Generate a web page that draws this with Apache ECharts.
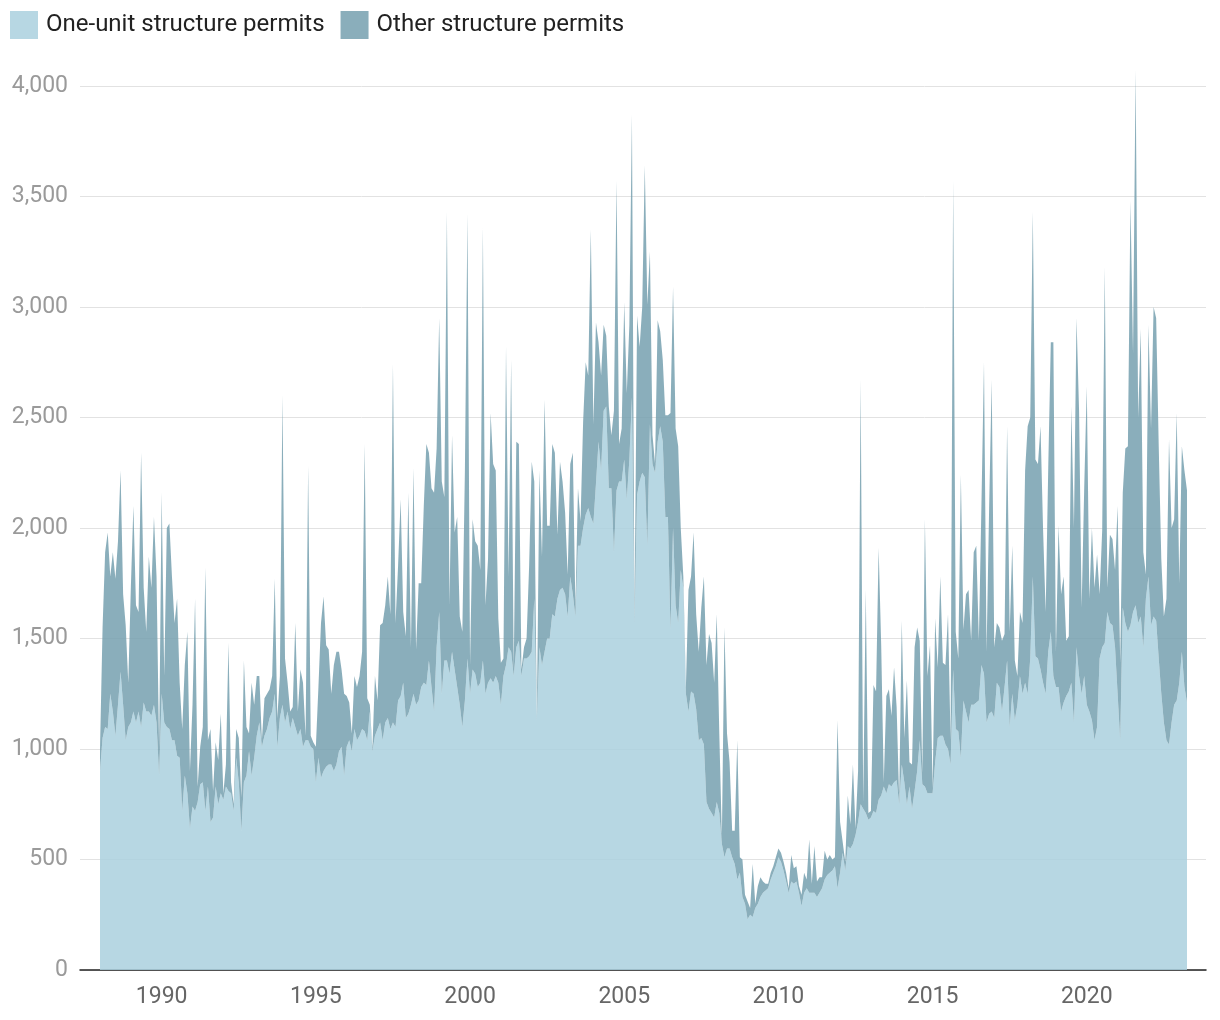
<!DOCTYPE html>
<html>
<head>
<meta charset="utf-8">
<script src="https://cdn.jsdelivr.net/npm/echarts@6/dist/echarts.min.js"></script>
<style>
  html, body { margin: 0; padding: 0; background: #fff; }
  #chart { width: 1220px; height: 1020px; }
</style>
</head>
<body>
<div id="chart"></div>
<script>
// monthly series, Jan 1988 .. Apr 2023
var startYear = 1988;
var yearTicks = [1990, 1995, 2000, 2005, 2010, 2015, 2020];
var seriesNames = ["One-unit structure permits", "Other structure permits"];

var oneUnit = [
  900, 1050, 1100, 1090, 1250, 1170, 1060, 1200, 1350, 1200,
  1040, 1100, 1120, 1170, 1120, 1170, 1100, 1210, 1170, 1170,
  1150, 1200, 1120, 880, 1250, 1120, 1100, 1090, 1040, 1040,
  970, 960, 720, 880, 800, 640, 740, 720,
  760, 840, 850, 720, 830, 670, 690, 830, 750, 800,
  770, 830, 810, 800, 720, 960, 850, 630, 850, 880,
  990, 880, 960, 1060, 1120, 1010, 1060, 1090, 1140, 1170,
  1250, 1010, 1140, 1200, 1120, 1170, 1090, 1140, 1100,
  1060, 1090, 1010, 1040, 1040, 1010, 1000, 850, 960, 870,
  900, 920, 930, 930, 900, 930, 990, 1010, 880, 1010,
  1040, 990, 1090, 1040, 1060, 1090, 1080, 1040, 1170, 990,
  1060, 1090, 1120, 1040, 1120, 1140, 1090, 1120, 1100,
  1220, 1240, 1300, 1140, 1160, 1200, 1250, 1200, 1220, 1280,
  1300, 1290, 1400, 1280, 1170, 1460, 1620, 1250, 1400, 1400,
  1340, 1440, 1360, 1280, 1200, 1100, 1220, 1410, 1250, 1360,
  1340, 1280, 1300, 1400, 1250, 1300, 1320, 1300, 1330,
  1300, 1200, 1330, 1380, 1460, 1440, 1330, 1460, 1490, 1330,
  1410, 1410, 1420, 1440, 1680, 1130, 1460, 1380, 1440, 1500,
  1500, 1610, 1600, 1680, 1720, 1730, 1700, 1600, 1780, 1700,
  1600, 1920, 1920, 2000, 2060, 2090, 2050, 2020, 2200,
  2390, 2260, 2530, 2550, 2180, 2180, 1890, 2170, 2210, 2210,
  2310, 2130, 2310, 2590, 1570, 2150, 2210, 2250, 2230, 1920,
  2470, 2290, 2250, 2390, 2460, 2390, 2050, 2050, 1540, 2000,
  1650, 1570, 1810, 1730, 1250, 1170, 1260, 1250, 1180,
  1040, 1050, 1020, 760, 730, 710, 690, 760, 710, 570,
  510, 550, 550, 510, 480, 410, 440, 330, 300, 230,
  250, 240, 280, 300, 330, 350, 360, 370, 410, 440,
  470, 510, 490, 450, 400, 350, 400, 390, 400,
  350, 290, 350, 370, 350, 350, 350, 330, 350, 370,
  410, 430, 440, 450, 470, 370, 440, 530, 450, 560,
  550, 570, 610, 670, 750, 730, 710, 680, 690, 720,
  710, 770, 790, 830, 800, 840, 830, 850, 860,
  750, 930, 850, 750, 830, 730, 810, 900, 1040, 840,
  830, 800, 800, 800, 940, 1050, 1060, 1060, 1020, 1000,
  930, 1360, 1090, 1080, 960, 1220, 1170, 1120, 1200, 1200,
  1210, 1220, 1380, 1340, 1120, 1160, 1170, 1140, 1300,
  1280, 1170, 1280, 1400, 1100, 1250, 1130, 1200, 1330, 1250,
  1300, 1250, 1410, 1780, 1420, 1410, 1360, 1300, 1250, 1440,
  1530, 1330, 1280, 1280, 1170, 1210, 1240, 1260, 1300, 1120,
  1460, 1330, 1250, 1330, 1200, 1170, 1130, 1040, 1100,
  1410, 1460, 1480, 1620, 1570, 1560, 1460, 1250, 1040, 1640,
  1570, 1530, 1560, 1620, 1650, 1570, 1600, 1460, 1680, 1780,
  1560, 1600, 1580, 1410, 1250, 1120, 1040, 1020, 1120, 1200,
  1220, 1300, 1440, 1280, 1210
];

var otherUnits = [
  100, 500, 790, 890, 530, 720, 710, 740, 910, 500,
  520, 200, 610, 930, 530, 450, 1240, 520, 360, 700,
  580, 850, 660, 120, 910, 210, 900, 930, 740, 530,
  710, 340, 370, 500, 730, 260, 460, 960,
  70, 170, 250, 1100, 210, 420, 120, 200, 200, 360,
  30, 100, 670, 50, 30, 130, 200, 150, 550, 220,
  80, 420, 240, 270, 210, 30, 170, 160, 130, 160,
  520, 130, 190, 1400, 290, 130, 80, 50, 470,
  110, 270, 290, 20, 1240, 50, 30, 160, 320, 700,
  790, 550, 520, 320, 480, 510, 450, 350, 370, 230,
  170, 80, 240, 240, 270, 350, 1300, 190, 30, 10,
  270, 130, 440, 530, 530, 640, 520, 1620, 470,
  610, 890, 320, 370, 1000, 260, 1020, 250, 530, 470,
  800, 1090, 940, 900, 990, 900, 1330, 960, 740, 2030,
  310, 980, 620, 770, 400, 430, 1040, 2010, 130, 680,
  600, 640, 510, 1960, 400, 560, 1200, 990, 930,
  290, 190, 80, 1440, 320, 1320, 30, 930, 890, 30,
  50, 90, 410, 860, 530, 10, 800, 490, 1140, 510,
  510, 770, 740, 290, 580, 480, 370, 190, 510, 640,
  40, 260, 110, 480, 690, 600, 1300, 450, 730,
  450, 430, 390, 320, 370, 240, 640, 1400, 170, 240,
  710, 480, 610, 1280, 30, 810, 610, 750, 1410, 1090,
  780, 130, 40, 550, 430, 370, 460, 460, 980, 1090,
  800, 800, 190, 50, 30, 550, 520, 730, 430,
  400, 590, 760, 620, 790, 770, 610, 850, 360, 30,
  1040, 520, 390, 120, 150, 630, 70, 170, 40, 80,
  30, 240, 20, 80, 90, 50, 30, 20, 30, 30,
  40, 40, 40, 40, 40, 20, 120, 70, 70,
  30, 50, 90, 40, 240, 40, 210, 70, 70, 50,
  130, 70, 80, 50, 40, 760, 230, 50, 40, 230,
  110, 360, 30, 230, 1920, 30, 1010, 30, 30, 570,
  550, 1140, 680, 20, 440, 430, 320, 520, 330,
  20, 650, 200, 560, 110, 200, 650, 650, 450, 50,
  1210, 530, 670, 20, 650, 320, 720, 330, 360, 610,
  110, 2210, 440, 330, 1280, 320, 530, 600, 290, 690,
  710, 270, 720, 1410, 320, 930, 1500, 320, 270,
  270, 320, 240, 1060, 430, 670, 270, 130, 290, 320,
  960, 1210, 1090, 1650, 890, 880, 1100, 690, 370, 830,
  1310, 1510, 160, 730, 530, 570, 250, 250, 1250, 880,
  1490, 1200, 390, 850, 1440, 510, 870, 690, 780,
  290, 530, 1700, 110, 400, 390, 350, 850, 350, 520,
  790, 840, 1920, 1170, 2420, 930, 1300, 430, 110, 1140,
  890, 1400, 1370, 960, 610, 480, 640, 1380, 880, 840,
  1300, 450, 930, 980, 960
];

// month category labels
var months = oneUnit.map(function (v, i) {
  var y = startYear + Math.floor(i / 12);
  var m = (i % 12) + 1;
  return y + "-" + (m < 10 ? "0" + m : m);
});

var chart = echarts.init(document.getElementById("chart"));

// grid 0 carries the visible axes, grid 1 the data (same height, inset horizontally)
chart.setOption({
  animation: false,
  textStyle: { fontFamily: "Roboto" },
  legend: {
    left: 10,
    top: 11,
    padding: 0,
    icon: "rect",
    itemWidth: 28,
    itemHeight: 28,
    itemGap: 16,
    textStyle: { fontSize: 24, color: "#222", padding: [3, 0, 0, 3] },
    data: seriesNames
  },
  grid: [
    { left: 80, right: 14, top: 86, bottom: 50 },
    { left: 100, right: 33, top: 86, bottom: 50 }
  ],
  xAxis: [
    {
      gridIndex: 0,
      type: "value",
      min: 1987.351,
      max: 2023.866,
      axisLine: { lineStyle: { color: "#222", width: 1.5 } },
      axisTick: { show: false },
      splitLine: { show: false },
      axisLabel: {
        customValues: yearTicks,
        color: "#666",
        fontSize: 23,
        margin: 16,
        formatter: function (v) { return String(v); }
      }
    },
    {
      gridIndex: 1,
      type: "category",
      boundaryGap: false,
      data: months,
      show: false
    }
  ],
  yAxis: [
    {
      gridIndex: 0,
      type: "value",
      min: 0,
      max: 4000,
      interval: 500,
      axisLine: { show: false },
      axisTick: { show: false },
      splitLine: { lineStyle: { color: "#e2e2e2", width: 1 } },
      axisLabel: {
        color: "#9a9a9a",
        fontSize: 23,
        margin: 12,
        formatter: function (v) { return v.toLocaleString("en-US"); }
      }
    },
    {
      gridIndex: 1,
      type: "value",
      min: 0,
      max: 4000,
      show: false,
      splitLine: { show: false }
    }
  ],
  series: [
    {
      name: seriesNames[0],
      type: "line",
      xAxisIndex: 1,
      yAxisIndex: 1,
      stack: "permits",
      data: oneUnit,
      symbol: "none",
      clip: false,
      color: "#b7d7e3",
      lineStyle: { width: 0 },
      areaStyle: { color: "#aad0de", opacity: 0.85 }
    },
    {
      name: seriesNames[1],
      type: "line",
      xAxisIndex: 1,
      yAxisIndex: 1,
      stack: "permits",
      data: otherUnits,
      symbol: "none",
      clip: false,
      color: "#8aaebb",
      lineStyle: { width: 0 },
      areaStyle: { color: "#75a0af", opacity: 0.85 }
    }
  ]
});
</script>
</body>
</html>
